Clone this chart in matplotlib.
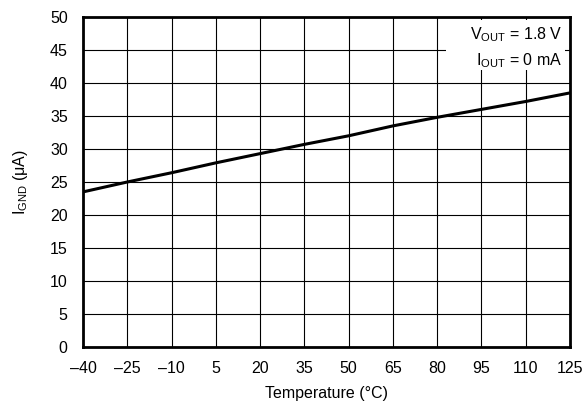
import matplotlib
matplotlib.use("Agg")
import matplotlib.pyplot as plt
from matplotlib.patches import Rectangle

plt.rcParams['font.family'] = ['Liberation Sans', 'DejaVu Sans']
plt.rcParams['mathtext.fontset'] = 'custom'
plt.rcParams['mathtext.rm'] = 'Liberation Sans'
plt.rcParams['mathtext.it'] = 'Liberation Sans'

temps = [-40, -25, -10, 5, 20, 35, 50, 65, 80, 95, 110, 125]
ignd = [23.5, 25.0, 26.4, 27.9, 29.3, 30.7, 32.0, 33.5, 34.8, 36.0, 37.2, 38.5]
xticks = [-40, -25, -10, 5, 20, 35, 50, 65, 80, 95, 110, 125]
yticks = [0, 5, 10, 15, 20, 25, 30, 35, 40, 45, 50]

fs = 11.5
fig = plt.figure(figsize=(5.84, 4.09), dpi=100)
ax = fig.add_axes([83/584, 1-347/409, (570-83)/584, (347-17)/409])
ax.plot(temps, ignd, color='black', lw=2.2, zorder=3)
ax.set_xlim(-40, 125)
ax.set_ylim(0, 50)
ax.set_xticks(xticks)
ax.set_xticklabels([str(t).replace('-', '\u2013') for t in xticks])
ax.set_yticks(yticks)
ax.grid(True, color='black', lw=0.8)
ax.tick_params(axis='x', length=0, labelsize=fs, pad=10)
ax.tick_params(axis='y', length=0, labelsize=fs, pad=11)
for s in ax.spines.values():
    s.set_linewidth(2)
    s.set_zorder(6)
ax.set_xlabel('Temperature (°C)', fontsize=fs, labelpad=7)
ax.set_ylabel(r'I$_{\mathrm{GND}}$ (μA)', fontsize=fs, labelpad=14)
ax.add_patch(Rectangle((0.745, 0.84), 0.245, 0.152, transform=ax.transAxes,
                       facecolor='white', edgecolor='none', zorder=4))
ax.text(0.984, 0.975, 'V$_{\\mathrm{OUT}}$ = 1.8 V\nI$_{\\mathrm{OUT}}$ = 0 mA',
        transform=ax.transAxes, ha='right', va='top', fontsize=fs,
        multialignment='right', linespacing=1.5, zorder=5)
fig.savefig('out.png', dpi=100)
